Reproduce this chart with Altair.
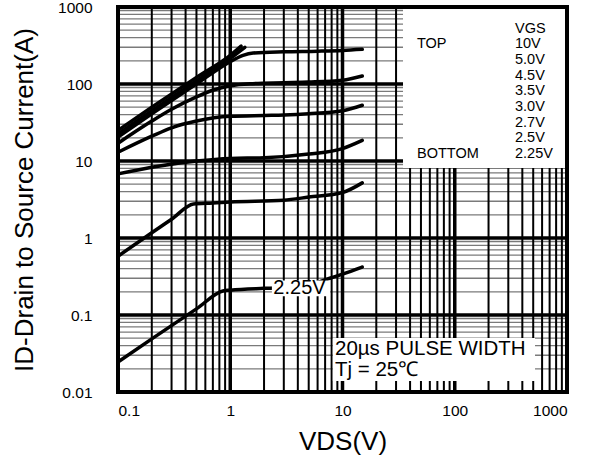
import altair as alt
import pandas as pd

FONT = "Liberation Sans"

# ---- tick labels / grid values ----
x_ticks = [0.1, 1, 10, 100, 1000]
y_ticks = [0.01, 0.1, 1, 10, 100, 1000]
x_major = [1, 10, 100]
y_major = [0.1, 1, 10, 100]
x_minor = [0.2, 0.3, 0.4, 0.5, 0.6, 0.7, 0.8, 0.9,
           2, 3, 4, 5, 6, 7, 8, 9,
           20, 30, 40, 50, 60, 70, 80, 90,
           200, 300, 400, 500, 600, 700, 800, 900]
y_minor = [0.02, 0.03, 0.04, 0.05, 0.06, 0.07, 0.08, 0.09,
           0.2, 0.3, 0.4, 0.5, 0.6, 0.7, 0.8, 0.9,
           2, 3, 4, 5, 6, 7, 8, 9,
           20, 30, 40, 50, 60, 70, 80, 90,
           200, 300, 400, 500, 600, 700, 800, 900]

# ---- curves (VDS, ID) ----
v10_x = [0.1, 0.2, 0.5, 1.0, 1.25]
v10_y = [25, 50, 122, 235, 310]
v50_x = [0.1, 0.2, 0.5, 1.0, 1.35]
v50_y = [22.5, 45, 110, 215, 300]
v45_x = [0.1, 0.2, 0.5, 1.0, 1.3, 1.6, 3, 6, 10, 15]
v45_y = [20.5, 41, 100, 195, 235, 252, 262, 267, 273, 282]
v35_x = [0.1, 0.2, 0.3, 0.5, 0.7, 1.0, 1.5, 3, 5, 10, 15]
v35_y = [17, 33, 47, 68, 83, 95, 101, 104, 106, 112, 127]
v30_x = [0.1, 0.2, 0.3, 0.5, 1.0, 2, 3, 5, 10, 15]
v30_y = [13, 21, 27, 33, 38, 39, 39.5, 41, 45, 53]
v27_x = [0.1, 0.2, 0.5, 1.0, 2, 5, 10, 15]
v27_y = [6.8, 8.3, 10, 10.8, 11, 12.3, 14.5, 18.5]
v25_x = [0.1, 0.2, 0.3, 0.47, 0.7, 1.0, 3, 5, 10, 15]
v25_y = [0.58, 1.17, 1.75, 2.77, 2.85, 2.94, 3.1, 3.4, 3.9, 5.2]
v225_x = [0.1, 0.2, 0.5, 0.86, 1.0, 2, 4, 7.7, 10, 15]
v225_y = [0.0245, 0.049, 0.12, 0.205, 0.21, 0.222, 0.23, 0.30, 0.34, 0.42]

series = [("10V", v10_x, v10_y), ("5.0V", v50_x, v50_y), ("4.5V", v45_x, v45_y),
          ("3.5V", v35_x, v35_y), ("3.0V", v30_x, v30_y), ("2.7V", v27_x, v27_y),
          ("2.5V", v25_x, v25_y), ("2.25V", v225_x, v225_y)]
rows = []
for name, xs_, ys_ in series:
    for xv, yv in zip(xs_, ys_):
        rows.append({"s": name, "x": xv, "y": yv})
curves = pd.DataFrame(rows)

# ---- legend text ----
legend_left = ["TOP", "BOTTOM"]
legend_left_y = [330, 12.3]
legend_right = ["VGS", "10V", "5.0V", "4.5V", "3.5V", "3.0V", "2.7V", "2.5V", "2.25V"]
legend_right_y = [518, 330, 205, 127, 81, 50.3, 31.2, 19.9, 12.3]

W, H = 449, 385
xs = alt.Scale(type="log", domain=[0.1, 1000], nice=False)
ys = alt.Scale(type="log", domain=[0.01, 1000], nice=False)


def X(field="x", **kw):
    return alt.X(field, type="quantitative", scale=xs, **kw)


def Y(field="y", **kw):
    return alt.Y(field, type="quantitative", scale=ys, **kw)


xaxis = alt.Axis(values=x_ticks, format="~g", grid=False, ticks=False, domain=False,
                 labelFont=FONT, labelFontSize=15.5, labelColor="black", labelPadding=11,
                 title="VDS(V)", titleFont=FONT, titleFontSize=26, titleFontWeight="normal",
                 titleColor="black", titlePadding=10)
yaxis = alt.Axis(values=y_ticks, format="~g", grid=False, ticks=False, domain=False,
                 labelFont=FONT, labelFontSize=15.5, labelColor="black", labelPadding=26,
                 title="ID-Drain to Source Current(A)", titleFont=FONT, titleFontSize=26,
                 titleFontWeight="normal", titleColor="black", titlePadding=20)

ymin_rule = alt.Chart(pd.DataFrame({"y": y_minor})).mark_rule(color="#7a7a7a", strokeWidth=1.3).encode(
    y=Y("y", axis=yaxis))
ymaj_rule = alt.Chart(pd.DataFrame({"y": y_major})).mark_rule(color="black", strokeWidth=3.5).encode(
    y=Y("y"))
xmin_rule = alt.Chart(pd.DataFrame({"x": x_minor})).mark_rule(color="black", strokeWidth=2).encode(
    x=X("x", axis=xaxis))
xmaj_rule = alt.Chart(pd.DataFrame({"x": x_major})).mark_rule(color="black", strokeWidth=3.5).encode(
    x=X("x"))

boxes = pd.DataFrame({
    "x": [34.6, 8.2], "x2": [1000, 519],
    "y": [1000, 0.0502], "y2": [8.1, 0.0139]})
box_layer = alt.Chart(boxes).mark_rect(color="white").encode(
    x=X("x"), x2="x2", y=Y("y"), y2="y2")

lines = alt.Chart(curves).mark_line(color="black", strokeWidth=3.5, interpolate="monotone",
                                    strokeCap="round").encode(
    x=X("x"), y=Y("y"), detail="s:N")

lab_box = alt.Chart(pd.DataFrame({"x": [2.35], "x2": [7.75], "y": [0.28], "y2": [0.175]})).mark_rect(
    color="white").encode(x=X("x"), x2="x2", y=Y("y"), y2="y2")
lab_text = alt.Chart(pd.DataFrame({"x": [2.42], "y": [0.224], "t": ["2.25V"]})).mark_text(
    font=FONT, fontSize=20, align="left", baseline="middle", color="black").encode(
    x=X("x"), y=Y("y"), text="t:N")

pulse = alt.Chart(pd.DataFrame({"x": [8.57, 8.57], "y": [0.0361, 0.0193],
                                "t": ["20\u00b5s PULSE WIDTH", "Tj = 25\u2103"]})).mark_text(
    font=FONT, fontSize=20.5, align="left", baseline="middle", color="black").encode(
    x=X("x"), y=Y("y"), text="t:N")

leg_l = alt.Chart(pd.DataFrame({"x": [46.1] * 2, "y": legend_left_y, "t": legend_left})).mark_text(
    font=FONT, fontSize=14.5, align="left", baseline="middle", color="black").encode(
    x=X("x"), y=Y("y"), text="t:N")
leg_r = alt.Chart(pd.DataFrame({"x": [344] * len(legend_right), "y": legend_right_y,
                                "t": legend_right})).mark_text(
    font=FONT, fontSize=14.5, align="left", baseline="middle", color="black").encode(
    x=X("x"), y=Y("y"), text="t:N")

frame = alt.Chart(pd.DataFrame({"a": [0]})).mark_rect(filled=False, stroke="black", strokeWidth=4).encode(
    x=alt.value(0), x2=alt.value(W), y=alt.value(0), y2=alt.value(H))

chart = alt.layer(ymin_rule, ymaj_rule, xmin_rule, xmaj_rule, box_layer, lines,
                  lab_box, lab_text, pulse, leg_l, leg_r, frame).properties(
    width=W, height=H, autosize="none",
    padding={"left": 118, "top": 7, "right": 22, "bottom": 72},
    background="white",
).configure_view(stroke=None)

chart.save("out.html", embed_options={"renderer": "svg", "actions": False})
